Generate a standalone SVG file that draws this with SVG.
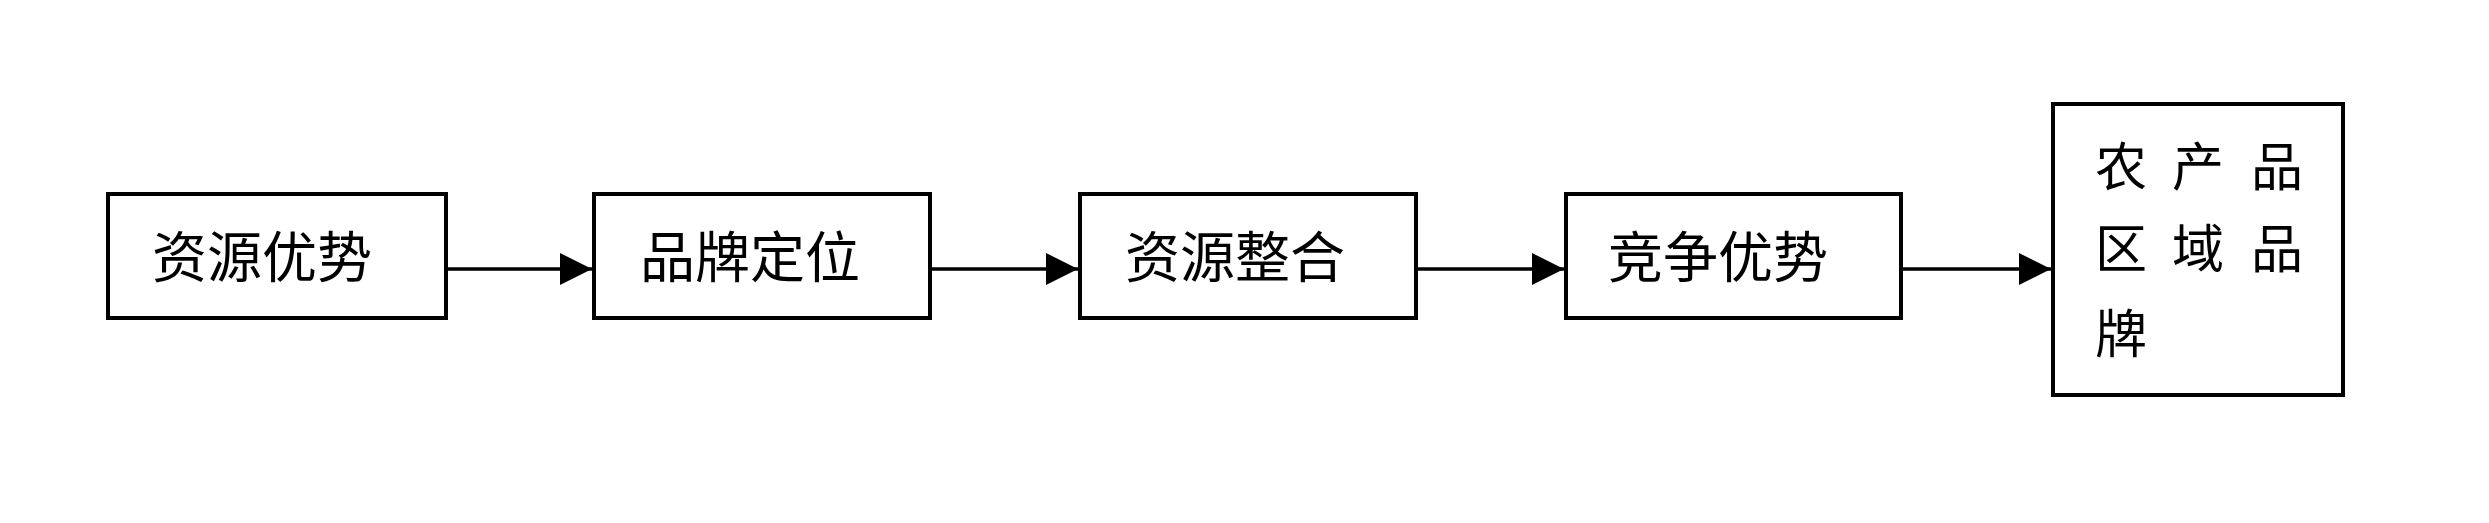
<svg xmlns="http://www.w3.org/2000/svg" width="2489" height="523" viewBox="0 0 2489 523">
<style>
.box{fill:#fff;stroke:#000;stroke-width:4}
.t{font-family:"Noto Sans CJK SC","Noto Sans",sans-serif;font-size:55px;fill:#000}
.t5{font-family:"Noto Sans CJK SC","Noto Sans",sans-serif;font-size:52px;fill:#000}
.c{stroke:#000;stroke-width:3.5;fill:none;marker-end:url(#ah)}
</style>
<defs>
<marker id="ah" markerUnits="userSpaceOnUse" markerWidth="32" markerHeight="32" refX="32" refY="16" orient="auto" viewBox="0 0 32 32">
<path d="M0,0 L32,16 L0,32 z" fill="#000"/>
</marker>
</defs>
<rect width="2489" height="523" fill="#fff"/>
<g id="connectors">
<line class="c" x1="448" y1="269" x2="592" y2="269"/>
<line class="c" x1="932" y1="269" x2="1078" y2="269"/>
<line class="c" x1="1418" y1="269" x2="1564" y2="269"/>
<line class="c" x1="1903" y1="269" x2="2051" y2="269"/>
</g>
<g id="n1"><rect class="box" x="108" y="194" width="338" height="124"/><text class="t" x="152" y="277">资源优势</text></g>
<g id="n2"><rect class="box" x="594" y="194" width="336" height="124"/><text class="t" x="640" y="277">品牌定位</text></g>
<g id="n3"><rect class="box" x="1080" y="194" width="336" height="124"/><text class="t" x="1125" y="277">资源整合</text></g>
<g id="n4"><rect class="box" x="1566" y="194" width="335" height="124"/><text class="t" x="1608" y="277">竞争优势</text></g>
<g id="n5"><rect class="box" x="2053" y="104" width="290" height="291"/>
<text class="t5" y="186"><tspan x="2095">农</tspan><tspan x="2172">产</tspan><tspan x="2251">品</tspan></text>
<text class="t5" y="268"><tspan x="2095">区</tspan><tspan x="2172">域</tspan><tspan x="2251">品</tspan></text>
<text class="t5" y="353"><tspan x="2095">牌</tspan></text>
</g>
</svg>
